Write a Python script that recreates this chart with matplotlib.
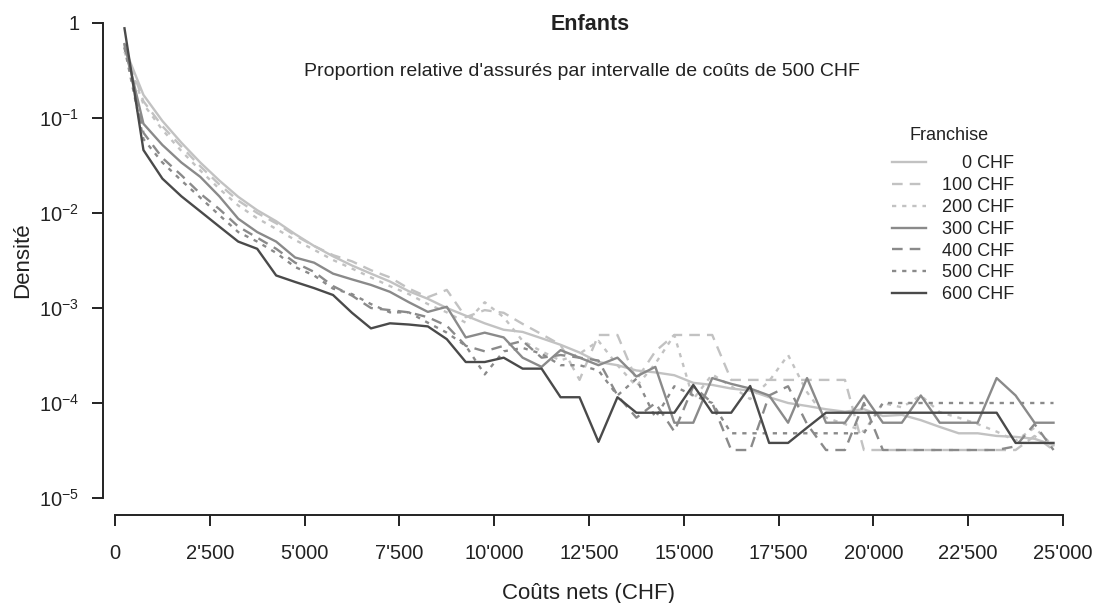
import matplotlib
matplotlib.use("Agg")
import matplotlib.pyplot as plt

plt.rcParams['font.family'] = ['Liberation Sans', 'DejaVu Sans']
plt.rcParams['mathtext.fontset'] = 'custom'
plt.rcParams['mathtext.rm'] = 'Liberation Sans'
plt.rcParams['mathtext.it'] = 'Liberation Sans:italic'
plt.rcParams['mathtext.bf'] = 'Liberation Sans:bold'

# ---------------- data ----------------
cost_mid = [250, 750, 1250, 1750, 2250, 2750, 3250, 3750, 4250, 4750,
            5250, 5750, 6250, 6750, 7250, 7750, 8250, 8750, 9250, 9750,
            10250, 10750, 11250, 11750, 12250, 12750, 13250, 13750, 14250, 14750,
            15250, 15750, 16250, 16750, 17250, 17750, 18250, 18750, 19250, 19750,
            20250, 20750, 21250, 21750, 22250, 22750, 23250, 23750, 24250, 24750]

f0 = [0.55, 0.175, 0.093, 0.055, 0.034, 0.022, 0.0148, 0.0107, 0.0082, 0.0060,
      0.0045, 0.0035, 0.0028, 0.0023, 0.0019, 0.0015, 0.00125, 0.0010, 0.00083, 0.00069,
      0.00059, 0.00056, 0.00048, 0.00041, 0.00034, 0.00027, 0.00025, 0.00022, 0.00021, 0.000196,
      0.000163, 0.000155, 0.000142, 0.000135, 0.000115, 0.00010, 0.000093, 0.000086, 0.000081, 0.000086,
      0.000073, 0.000075, 0.000066, 0.000056, 0.000048, 0.000048, 0.000045, 0.000044, 0.000042, 0.000036]

f100 = [0.55, 0.15, 0.082, 0.05, 0.031, 0.020, 0.0135, 0.0100, 0.0078, 0.0058,
        0.0045, 0.0036, 0.0031, 0.0025, 0.0021, 0.0016, 0.0013, 0.00155, 0.00080, 0.00095,
        0.00089, 0.00068, 0.00053, 0.00041, 0.000175, 0.00052, 0.00052, 0.000175, 0.00035, 0.00052,
        0.00052, 0.00052, 0.000175, 0.000175, 0.000175, 0.000175, 0.000175, 0.000175, 0.000175, 0.000032,
        0.000032, 0.000032, 0.000032, 0.000032, 0.000032, 0.000032, 0.000032, 0.000032, 0.000045, 0.000032]

f200 = [0.50, 0.14, 0.075, 0.045, 0.028, 0.018, 0.012, 0.0088, 0.0068, 0.0052,
        0.0041, 0.0032, 0.0026, 0.0021, 0.0017, 0.0014, 0.0011, 0.0009, 0.0007, 0.00115,
        0.0008, 0.00045, 0.00035, 0.00028, 0.00033, 0.00045, 0.00025, 0.00015, 0.00026, 0.00052,
        0.00011, 0.00020, 0.00015, 0.00011, 0.00017, 0.00032, 0.00013, 0.00007, 0.00006, 0.00005,
        0.00010, 0.00009, 0.00012, 0.00008, 0.00007, 0.00006, 0.00005, 0.00004, 0.000055, 0.000035]

f300 = [0.60, 0.087, 0.052, 0.034, 0.024, 0.015, 0.0087, 0.0063, 0.0050, 0.0034,
        0.0030, 0.0023, 0.0020, 0.00175, 0.00148, 0.00115, 0.00091, 0.00103, 0.00049, 0.00055,
        0.00049, 0.00030, 0.00024, 0.00036, 0.00030, 0.00025, 0.00030, 0.00019, 0.00024, 0.000062,
        0.000062, 0.000183, 0.000159, 0.000142, 0.00012, 0.000062, 0.000183, 0.000062, 0.000062, 0.00012,
        0.000062, 0.000062, 0.00012, 0.000062, 0.000062, 0.000062, 0.000183, 0.00012, 0.000062, 0.000062]

f400 = [0.60, 0.070, 0.038, 0.025, 0.016, 0.011, 0.0072, 0.0055, 0.0042, 0.0030,
        0.0024, 0.0017, 0.00135, 0.0010, 0.00095, 0.0009, 0.0008, 0.00065, 0.0004, 0.00035,
        0.0004, 0.00045, 0.00030, 0.00032, 0.00030, 0.00028, 0.00012, 0.00007, 0.0001, 0.00005,
        0.00015, 0.0001, 0.000032, 0.000032, 0.00012, 0.00015, 0.00006, 0.000032, 0.000032, 0.0001,
        0.000032, 0.000032, 0.000032, 0.000032, 0.000032, 0.000032, 0.000032, 0.000035, 0.00006, 0.000032]

f500 = [0.55, 0.060, 0.034, 0.022, 0.0145, 0.0095, 0.0063, 0.0050, 0.0038, 0.0027,
        0.0022, 0.0016, 0.0014, 0.0011, 0.0009, 0.0009, 0.0007, 0.00055, 0.0004, 0.00020,
        0.00035, 0.00038, 0.00033, 0.00025, 0.00025, 0.00022, 0.00012, 0.00018, 0.00007, 0.00015,
        0.00012, 0.0001, 0.000048, 0.000048, 0.000048, 0.000048, 0.000048, 0.000048, 0.000048, 0.000048,
        0.0001, 0.0001, 0.0001, 0.0001, 0.0001, 0.0001, 0.0001, 0.0001, 0.0001, 0.0001]

f600 = [0.88, 0.046, 0.023, 0.015, 0.0104, 0.0072, 0.0050, 0.0042, 0.0022, 0.00188,
        0.00162, 0.00137, 0.00089, 0.00061, 0.00069, 0.00067, 0.00064, 0.00047, 0.00027, 0.00027,
        0.00030, 0.00023, 0.00023, 0.000115, 0.000115, 0.000039, 0.000115, 0.000079, 0.000079, 0.000079,
        0.000155, 0.000079, 0.000079, 0.000151, 0.000038, 0.000038, 0.000055, 0.000079, 0.000079, 0.000079,
        0.000079, 0.000079, 0.000079, 0.000079, 0.000079, 0.000079, 0.000079, 0.000038, 0.000038, 0.000038]

series = [f0, f100, f200, f300, f400, f500, f600]
labels = ['\u2007\u20070 CHF', '100 CHF', '200 CHF', '300 CHF', '400 CHF', '500 CHF', '600 CHF']
x_ticks = [0, 2500, 5000, 7500, 10000, 12500, 15000, 17500, 20000, 22500, 25000]
x_tick_labels = ["0", "2'500", "5'000", "7'500", "10'000", "12'500", "15'000",
                 "17'500", "20'000", "22'500", "25'000"]
y_ticks = [1e-5, 1e-4, 1e-3, 1e-2, 1e-1, 1]
y_tick_labels = [r'$\mathregular{10^{-5}}$', r'$\mathregular{10^{-4}}$', r'$\mathregular{10^{-3}}$',
                 r'$\mathregular{10^{-2}}$', r'$\mathregular{10^{-1}}$', '1']

# ---------------- styles ----------------
light, mid, dark = '#c2c2c2', '#8a8a8a', '#4a4a4a'
colors = [light, light, light, mid, mid, mid, dark]
dashed = (0, (4.5, 3))
dotted = (0, (1.8, 2.5))
styles = ['-', dashed, dotted, '-', dashed, dotted, '-']

W, H = 1101, 603
fig = plt.figure(figsize=(W / 100, H / 100), dpi=100)
ax = fig.add_axes([115 / W, 105 / H, 948 / W, 475 / H])

handles = []
for ys, c, ls, lab in zip(series, colors, styles, labels):
    ln, = ax.plot(cost_mid, ys, color=c, linestyle=ls, lw=1.7, label=lab)
    handles.append(ln)

ax.set_yscale('log')
ax.set_ylim(1e-5, 1)
ax.set_xlim(0, 25000)
ax.minorticks_off()
ax.set_yticks(y_ticks)
ax.set_yticklabels(y_tick_labels)
ax.set_xticks(x_ticks)
ax.set_xticklabels(x_tick_labels)

for s in ['top', 'right']:
    ax.spines[s].set_visible(False)
ax.spines['left'].set_position(('outward', 12 * 0.72))
ax.spines['bottom'].set_position(('outward', 17 * 0.72))
for s in ['left', 'bottom']:
    ax.spines[s].set_linewidth(1.4)
    ax.spines[s].set_color('#222222')
ax.tick_params(axis='both', length=8, width=1.4, color='#222222', labelsize=14.5,
               labelcolor='#222222')
ax.tick_params(axis='y', pad=9)
ax.tick_params(axis='x', pad=13)

ax.set_xlabel('Coûts nets (CHF)', fontsize=16, color='#222222', labelpad=14)
ax.set_ylabel('Densité', fontsize=16, color='#222222', labelpad=4)

fig.text(590 / W, 1 - 25 / H, 'Enfants', fontsize=15.5, fontweight='bold',
         ha='center', va='center', color='#222222')
fig.text(582 / W, 1 - 72 / H,
         "Proportion relative d'assurés par intervalle de coûts de 500 CHF",
         fontsize=14, ha='center', va='center', color='#222222')

# legend title placed separately for the larger gap of the original
fig.text(949 / W, 1 - 136 / H, 'Franchise', fontsize=13, ha='center', va='center',
         color='#222222')
leg = ax.legend(handles=handles, labels=labels, frameon=False,
                loc='upper left', bbox_to_anchor=(892 / W, 1 - 155.5 / H),
                bbox_transform=fig.transFigure, fontsize=13,
                handlelength=1.9, handletextpad=0.85, labelspacing=0.265,
                borderpad=0, borderaxespad=0)
for t in leg.get_texts():
    t.set_color('#222222')

fig.savefig('out.png', dpi=100)
